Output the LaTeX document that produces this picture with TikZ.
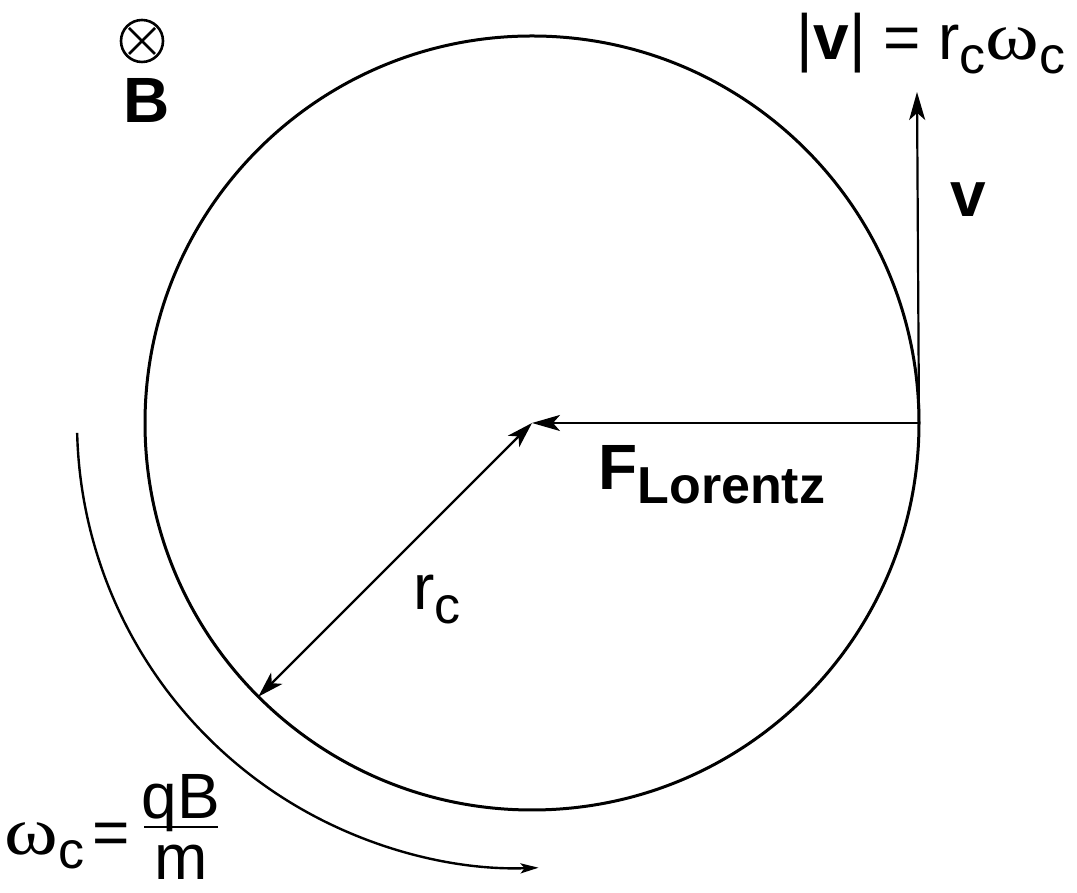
\documentclass[tikz,border=0pt]{standalone}
\usepackage{fontspec}
\setmainfont{Liberation Sans}
\newfontfamily\grkfont{Liberation Serif}
\usetikzlibrary{arrows.meta,positioning,calc}
\newcommand{\subtxt}[1]{\raisebox{-7pt}{\fontsize{26}{28}\selectfont #1}}
\newcommand{\omg}{{\grkfont\fontsize{34}{38}\selectfont\scalebox{1.2}[1]{ω}}}
\tikzset{
  orbit/.style={line width=1.5pt},
  vec/.style={-{Stealth[length=14pt,width=8pt,inset=3.5pt]}, line width=1.1pt},
  dvec/.style={{Stealth[length=13pt,width=8pt,inset=3.5pt]}-{Stealth[length=13pt,width=8pt,inset=3.5pt]}, line width=1.1pt},
  spin/.style={-{Stealth[length=9pt,width=5pt,inset=2pt]}, line width=1.2pt},
  lbl/.style={font=\fontsize{32}{38}\selectfont, inner sep=0pt},
  otimes/.style={circle, draw, line width=1.3pt, minimum size=21pt, inner sep=0pt},
}

\begin{document}
\begin{tikzpicture}[x=0.5pt, y=0.5pt]
  \useasboundingbox (0,0) rectangle (1077,893);
  \coordinate (ctr) at (532,470);
  \coordinate (octr) at (523,471);
  \coordinate (rim) at ($(ctr)+(0:387)$);
  \coordinate (edge) at ($(ctr)+(225:387)$);
  \coordinate (vtip) at (917,801);
  \coordinate (sstart) at ($(octr)+(181.4:446)$);
  \draw[orbit] (ctr) circle[radius=387];
  \draw[vec] (rim) -- (vtip);
  \draw[vec] (rim) -- (ctr);
  \draw[dvec] (edge) -- (ctr);
  \draw[spin] (sstart) arc[start angle=181.4, end angle=272, radius=446];
  % field into the page
  \node[otimes] (bdir) at (142,852) {};
  \draw[line width=1.3pt] ($(bdir)+(-13,13)$) -- ($(bdir)+(13,-13)$)
    ($(bdir)+(-13,-13)$) -- ($(bdir)+(13,13)$);
  \node[lbl, font=\fontsize{32}{38}\selectfont\bfseries] (bfield) at (147,793) {B};
  \node[lbl, anchor=base east] (vmag) at (1066,833) {|\textbf{v}| = r\subtxt{c}\omg\subtxt{c}};
  \node[lbl, font=\fontsize{32}{38}\selectfont\bfseries] (vlbl) at (968,693) {v};
  \node[lbl, anchor=base west, font=\fontsize{32}{38}\selectfont\bfseries] (flbl) at (598,403) {F\subtxt{Lorentz}};
  \node[lbl, anchor=base west] (rlbl) at (413,283) {r\subtxt{c}};
  % cyclotron frequency
  \node[lbl, anchor=base east] (wlbl) at (130,38) {\omg\subtxt{c}\hspace{4pt}=};
  \coordinate (barl) at (144,66);
  \coordinate (barr) at (218,66);
  \draw[line width=1.3pt] (barl) -- (barr);
  \node[lbl, anchor=base] (num) at ($(barl)!0.5!(barr)+(0,8)$) {qB};
  \node[lbl, anchor=base] (den) at ($(barl)!0.5!(barr)+(0,-53)$) {m};
\end{tikzpicture}
\end{document}
